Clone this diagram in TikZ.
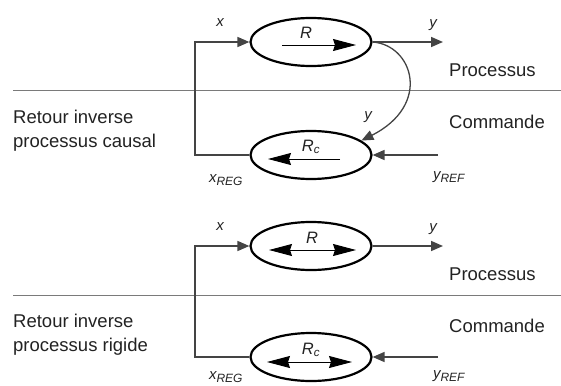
\documentclass[tikz,border=0pt]{standalone}
\usepackage{fontspec}
\setmainfont{Liberation Sans}
\usetikzlibrary{shapes.geometric,arrows.meta,calc}
\definecolor{ink}{HTML}{222222}
\definecolor{wirec}{HTML}{444444}
\definecolor{rulec}{HTML}{7A7A7A}
\begin{document}
\begin{tikzpicture}[x=1pt,y=-1pt,
  ell/.style={ellipse, draw=black, line width=2.2pt, minimum width=121pt,
    minimum height=48pt, inner sep=0pt},
  wire/.style={draw=wirec, line width=1.6pt},
  inarrow/.style={wire, -{Triangle[length=12pt,width=10pt]}},
  flow/.style={draw=black, line width=0.9pt,
    -{Stealth[length=23pt,width=12pt,inset=2pt]}},
  bothflow/.style={draw=black, line width=0.9pt,
    {Stealth[length=23pt,width=12pt,inset=2pt]}-{Stealth[length=23pt,width=12pt,inset=2pt]}},
  sep/.style={draw=rulec, line width=1pt},
  txt/.style={font=\fontsize{18.5}{24}\selectfont, text=ink, inner sep=0pt, anchor=west, align=left},
  var/.style={font=\itshape\fontsize{15}{16}\selectfont, text=ink, inner sep=0pt},
  blk/.style={font=\itshape\fontsize{16.5}{18}\selectfont, text=ink, inner sep=0pt}
]
\useasboundingbox (0,0) rectangle (561,385);

% ---------- causal process: forward model and inverse control ----------
\draw[sep] (13,91) -- (561,91);
\node[ell] (R1) at (311,42) {};
\node[ell] (Rc1) at (311,155) {};
\coordinate (k1a) at (195,155);
\coordinate (k1b) at (195,42);
\coordinate (yout1) at (443,42);
\coordinate (yref1) at (438,155);

\draw[inarrow] (Rc1.west) -- (k1a) -- (k1b) -- (R1.west);
\draw[inarrow] (R1.east) -- (yout1);
\draw[inarrow] (yref1) -- (Rc1.east);
\draw[wire, line width=1.3pt, -{Triangle[length=12pt,width=10pt]}]
  (R1.east) .. controls (413,45) and (432,105) .. (Rc1.16);

\draw[flow] ($(R1.center)+(-29,3)$) -- ($(R1.center)+(45,3)$);
\draw[flow] ($(Rc1.center)+(29,4)$) -- ($(Rc1.center)+(-43,4)$);
\node[blk] (lR1) at ($(R1.center)+(-5,-9)$) {R};
\node[blk] (lRc1) at ($(Rc1.center)+(0,-8)$) {R\textsubscript{c}};

\node[var] (lx1) at (220,23) {x};
\node[var] (ly1) at (433,25) {y};
\node[var] (lyc1) at (368,117) {y};
\node[var] (lxr1) at (226,180) {x\textsubscript{\fontsize{12}{12}\selectfont REG}};
\node[var] (lyr1) at (449,177) {y\textsubscript{\fontsize{12}{12}\selectfont REF}};

\node[txt] (p1) at (449,70) {Processus};
\node[txt] (c1) at (449,122) {Commande};
\node[txt] (t1) at (13,131) {Retour inverse\\processus causal};

% ---------- rigid process: bidirectional blocks ----------
\draw[sep] (13,295) -- (561,295);
\node[ell] (R2) at (311,246) {};
\node[ell] (Rc2) at (311,357) {};
\coordinate (k2a) at (195,357);
\coordinate (k2b) at (195,246);
\coordinate (yout2) at (443,246);
\coordinate (yref2) at (438,357);

\draw[inarrow] (Rc2.west) -- (k2a) -- (k2b) -- (R2.west);
\draw[inarrow] (R2.east) -- (yout2);
\draw[inarrow] (yref2) -- (Rc2.east);

\draw[bothflow] ($(R2.center)+(-42,4)$) -- ($(R2.center)+(45,4)$);
\draw[bothflow] ($(Rc2.center)+(-44,5)$) -- ($(Rc2.center)+(41,5)$);
\node[blk] (lR2) at ($(R2.center)+(1,-8)$) {R};
\node[blk] (lRc2) at ($(Rc2.center)+(0,-7)$) {R\textsubscript{c}};

\node[var] (lx2) at (220,227) {x};
\node[var] (ly2) at (433,229) {y};
\node[var] (lxr2) at (226,377) {x\textsubscript{\fontsize{12}{12}\selectfont REG}};
\node[var] (lyr2) at (449,376) {y\textsubscript{\fontsize{12}{12}\selectfont REF}};

\node[txt] (p2) at (449,274) {Processus};
\node[txt] (c2) at (449,326) {Commande};
\node[txt] (t2) at (13,335) {Retour inverse\\processus rigide};
\end{tikzpicture}
\end{document}
